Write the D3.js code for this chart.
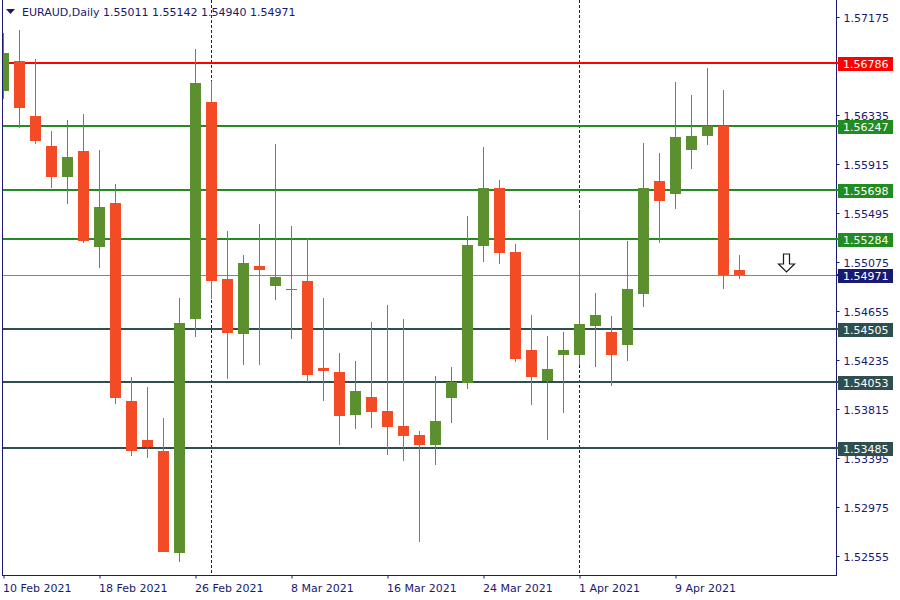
<!DOCTYPE html>
<html><head><meta charset="utf-8">
<script src="https://cdn.jsdelivr.net/npm/d3@7"></script>
<style>html,body{margin:0;padding:0;background:#fff;} svg{display:block;}</style>
</head><body><svg id="c" width="900" height="600"></svg>
<script>
const dates = ["2021-02-10","2021-02-11","2021-02-12","2021-02-15","2021-02-16","2021-02-17","2021-02-18","2021-02-19",
"2021-02-22","2021-02-23","2021-02-24","2021-02-25","2021-02-26","2021-03-01","2021-03-02","2021-03-03","2021-03-04",
"2021-03-05","2021-03-08","2021-03-09","2021-03-10","2021-03-11","2021-03-12","2021-03-15","2021-03-16","2021-03-17",
"2021-03-18","2021-03-19","2021-03-22","2021-03-23","2021-03-24","2021-03-25","2021-03-26","2021-03-29","2021-03-30",
"2021-03-31","2021-04-01","2021-04-02","2021-04-05","2021-04-06","2021-04-07","2021-04-08","2021-04-09","2021-04-12",
"2021-04-13","2021-04-14","2021-04-15"];
const opens  = [1.56552,1.56806,1.56335,1.56078,1.55815,1.56035,1.55215,1.55589,1.53892,1.53558,1.53464,1.52592,1.54598,
1.56455,1.54938,1.54469,1.55049,1.54880,1.54848,1.54921,1.54175,1.54141,1.53775,1.53926,1.53806,1.53678,1.53601,1.53518,
1.53920,1.54049,1.55223,1.55718,1.55169,1.54329,1.54066,1.54289,1.54289,1.54538,1.54484,1.54375,1.54812,1.55778,1.55669,
1.56046,1.56166,1.56249,1.55011];
const highs  = [1.57049,1.57072,1.56824,1.56206,1.56301,1.56352,1.56044,1.55752,1.54098,1.54012,1.53746,1.54775,1.56909,
1.56638,1.55349,1.55144,1.55409,1.56095,1.55392,1.55292,1.54775,1.54304,1.54235,1.54569,1.54715,1.54595,1.53635,1.54106,
1.54184,1.55478,1.56069,1.55786,1.55238,1.54629,1.54449,1.54484,1.55529,1.54818,1.54621,1.55264,1.56104,1.56018,1.56626,
1.56515,1.56746,1.56558,1.55142];
const lows   = [1.56478,1.56235,1.56098,1.55720,1.55583,1.55249,1.55035,1.53869,1.53423,1.53406,1.52596,1.52515,1.54443,
1.54769,1.54083,1.54203,1.54203,1.54760,1.54426,1.54052,1.53895,1.53518,1.53655,1.53663,1.53432,1.53380,1.52686,1.53346,
1.53706,1.53998,1.55086,1.55069,1.54225,1.53860,1.53560,1.53792,1.54203,1.54186,1.54023,1.54238,1.54700,1.55249,1.55540,
1.55883,1.56089,1.54855,1.54940];
const closes = [1.56875,1.56406,1.56123,1.55815,1.55984,1.55266,1.55555,1.53920,1.53466,1.53500,1.52600,1.54561,1.56620,
1.54923,1.54478,1.55075,1.55018,1.54955,1.54852,1.54118,1.54152,1.53766,1.53978,1.53800,1.53672,1.53595,1.53518,1.53721,
1.54055,1.55229,1.55718,1.55163,1.54255,1.54100,1.54166,1.54329,1.54552,1.54629,1.54289,1.54852,1.55718,1.55609,1.56155,
1.56164,1.56252,1.54972,1.54971];
const yTicks = [1.57175,1.56335,1.55915,1.55495,1.55075,1.54655,1.54235,1.53815,1.53395,1.52975,1.52555];
const xTickDates = ["2021-02-10","2021-02-18","2021-02-26","2021-03-08","2021-03-16","2021-03-24","2021-04-01","2021-04-09"];
const xTickLabels = ["10 Feb 2021","18 Feb 2021","26 Feb 2021","8 Mar 2021","16 Mar 2021","24 Mar 2021","1 Apr 2021","9 Apr 2021"];
const separators = ["2021-03-01","2021-04-01"];
const resistanceLevels = [1.56786];
const greenLevels = [1.56247,1.55698,1.55284];
const darkLevels = [1.54505,1.54053,1.53485];
const lastPrice = 1.54971;
const symbol = "EURAUD,Daily";

const PL = 2, PR = 836, PT = 0, PB = 576;
const fg = "#191970";
const bull = "#5b8f30", bear = "#f24b25";
const font = "DejaVu Sans, Verdana, sans-serif";

const svg = d3.select("#c");
const x = d3.scalePoint().domain(dates).range([3.5, 3.5 + 16 * (dates.length - 1)]);
const y = d3.scaleLinear().domain([1.52555, 1.57175]).range([557, 18]);
const fmt = d3.format(".5f");

// y axis ticks & labels
const yAxis = d3.axisRight(y).tickValues(yTicks).tickFormat(fmt).tickSize(3).tickPadding(4);
const ya = svg.append("g").attr("transform", `translate(${PR + 0.5},0)`).call(yAxis);
ya.select(".domain").remove();
ya.selectAll(".tick line").attr("stroke", fg).attr("transform", "translate(0,-1)");
ya.selectAll(".tick text").attr("fill", fg).attr("font-family", font).attr("font-size", 11).attr("dy", "0.36em");

// x axis
const xAxis = d3.axisBottom(x).tickValues(xTickDates).tickFormat((d, i) => xTickLabels[i]).tickSize(3).tickPadding(4);
const xa = svg.append("g").attr("transform", `translate(0,${PB - 0.5})`).call(xAxis);
xa.select(".domain").remove();
xa.selectAll(".tick line").attr("stroke", fg);
xa.selectAll(".tick text").attr("fill", fg).attr("font-family", font).attr("font-size", 11)
  .attr("text-anchor", "start").attr("dx", -1).attr("dy", "0.9em");

// plot clip
svg.append("clipPath").attr("id", "plot").append("rect")
  .attr("x", PL + 1).attr("y", PT).attr("width", PR - PL - 1).attr("height", PB - PT);
const plot = svg.append("g").attr("clip-path", "url(#plot)");

// period separators
plot.selectAll("line.sep").data(separators).join("line")
  .attr("x1", d => x(d)).attr("x2", d => x(d)).attr("y1", PT).attr("y2", PB)
  .attr("stroke", fg).attr("stroke-width", 1).attr("stroke-dasharray", "3,2");

// horizontal levels
const levels = [
  ...resistanceLevels.map(v => ({v, c: "#ff0000", w: 2})),
  ...greenLevels.map(v => ({v, c: "#228b22", w: 2})),
  ...darkLevels.map(v => ({v, c: "#2f4f4f", w: 2})),
];
plot.selectAll("line.lvl").data(levels).join("line")
  .attr("x1", PL).attr("x2", PR)
  .attr("y1", d => Math.round(y(d.v))).attr("y2", d => Math.round(y(d.v)))
  .attr("stroke", d => d.c).attr("stroke-width", d => d.w);
plot.append("line").attr("x1", PL).attr("x2", PR)
  .attr("y1", Math.round(y(lastPrice)) + 0.5).attr("y2", Math.round(y(lastPrice)) + 0.5)
  .attr("stroke", "#778899").attr("stroke-width", 1);

// candles
const candles = dates.map((d, i) => ({d, o: opens[i], h: highs[i], l: lows[i], c: closes[i]}));
const g = plot.selectAll("g.candle").data(candles).join("g");
g.append("line")
  .attr("x1", d => x(d.d)).attr("x2", d => x(d.d))
  .attr("y1", d => Math.round(y(d.h))).attr("y2", d => Math.round(y(d.l)))
  .attr("stroke", d => d.c >= d.o ? bull : bear).attr("stroke-width", 1);
g.append("rect")
  .attr("x", d => x(d.d) - 5.5).attr("width", 11)
  .attr("y", d => Math.round(y(Math.max(d.o, d.c))))
  .attr("height", d => Math.max(1, Math.round(y(Math.min(d.o, d.c))) - Math.round(y(Math.max(d.o, d.c)))))
  .attr("fill", d => d.c >= d.o ? bull : bear);

// arrow (hollow down arrow)
const ax = 3.5 + 16 * (dates.length - 1) + 47, ay = Math.round(y(lastPrice)) - 21;
svg.append("path")
  .attr("d", `M${ax - 3},${ay} L${ax + 3},${ay} L${ax + 3},${ay + 10} L${ax + 8},${ay + 10} L${ax},${ay + 18} L${ax - 8},${ay + 10} L${ax - 3},${ay + 10} Z`)
  .attr("fill", "#fff").attr("stroke", "#1a1a1a").attr("stroke-width", 1.2);

// frame
svg.append("line").attr("x1", PL + 0.5).attr("x2", PL + 0.5).attr("y1", PT).attr("y2", PB).attr("stroke", fg);
svg.append("line").attr("x1", PR + 0.5).attr("x2", PR + 0.5).attr("y1", PT).attr("y2", PB).attr("stroke", fg);
svg.append("line").attr("x1", PL).attr("x2", PR + 1).attr("y1", PB - 0.5).attr("y2", PB - 0.5).attr("stroke", fg);

// level labels on the right axis
const tags = [
  ...resistanceLevels.map(v => ({v, bg: "#ff0000"})),
  ...greenLevels.map(v => ({v, bg: "#228b22"})),
  ...darkLevels.map(v => ({v, bg: "#2f4f4f"})),
  {v: lastPrice, bg: "#191970"},
];
const tg = svg.selectAll("g.tag").data(tags).join("g");
tg.append("rect").attr("x", 838).attr("width", 55)
  .attr("y", d => Math.round(y(d.v)) - 6).attr("height", 14).attr("fill", d => d.bg);
tg.append("text").attr("x", 843).attr("y", d => Math.round(y(d.v)) + 5)
  .attr("fill", "#fff").attr("font-family", font).attr("font-size", 11).text(d => fmt(d.v));
svg.selectAll("line.tagtick").data(tags).join("line")
  .attr("x1", PR).attr("x2", 838).attr("y1", d => Math.round(y(d.v))).attr("y2", d => Math.round(y(d.v)))
  .attr("stroke", d => d.bg).attr("stroke-width", 2);

// header
svg.append("path").attr("d", "M6,9 L15,9 L10.5,14 Z").attr("fill", fg);
const last = candles[candles.length - 1];
svg.append("text").attr("x", 22).attr("y", 16).attr("fill", fg).attr("font-family", font).attr("font-size", 11)
  .text(`${symbol}  ${fmt(last.o)} ${fmt(last.h)} ${fmt(last.l)} ${fmt(last.c)}`);
</script></body></html>
